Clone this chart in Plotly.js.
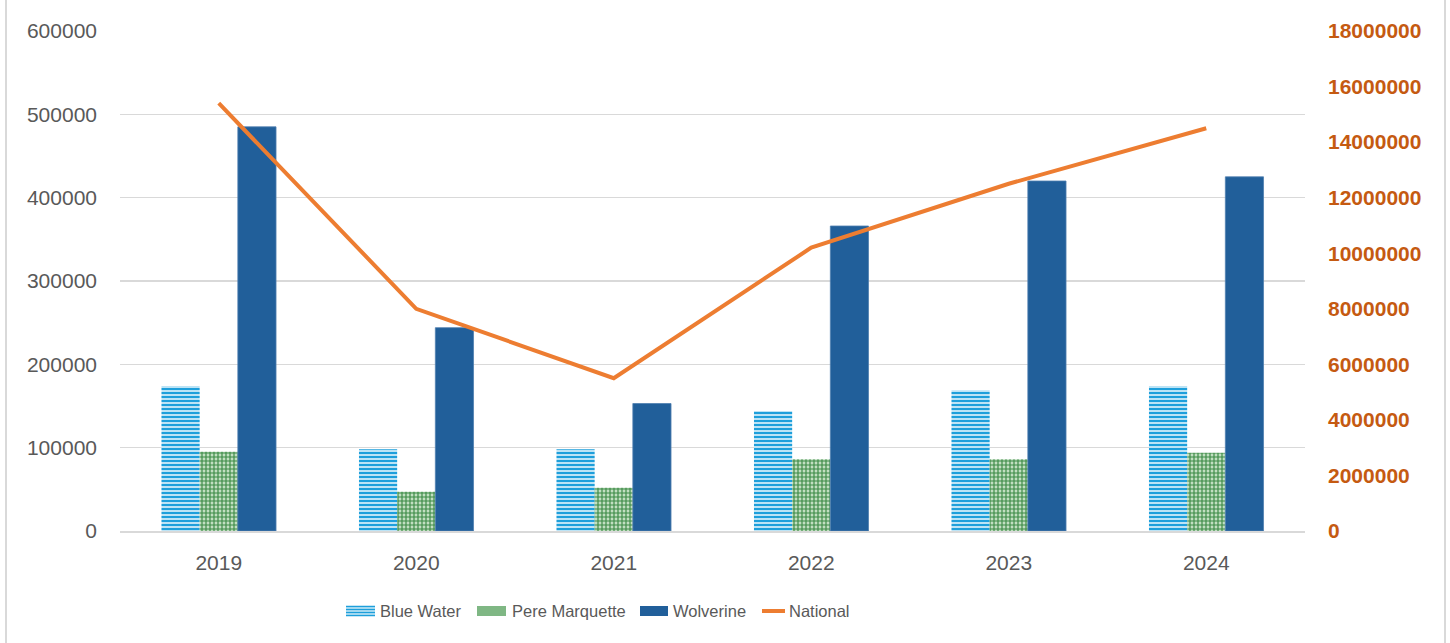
<!DOCTYPE html>
<html>
<head>
<meta charset="utf-8">
<script src="https://cdn.plot.ly/plotly-3.0.1.min.js"></script>
<style>
  html, body { margin: 0; padding: 0; background: #ffffff; }
  #chart { width: 1450px; height: 643px; }
</style>
</head>
<body>
<div id="chart"></div>
<script>
const years = ['2019', '2020', '2021', '2022', '2023', '2024'];
const blueWater = [174000, 98000, 98000, 144000, 169000, 174000];
const pereMarquette = [95000, 47000, 52000, 86000, 86000, 94000];
const wolverine = [485000, 244000, 153000, 366000, 420000, 425000];
const national = [15400000, 8000000, 5500000, 10200000, 12500000, 14500000];
const leftTicks = [0, 100000, 200000, 300000, 400000, 500000, 600000];
const rightTicks = [0, 2000000, 4000000, 6000000, 8000000, 10000000, 12000000, 14000000, 16000000, 18000000];
const seriesNames = ['Blue Water', 'Pere Marquette', 'Wolverine', 'National'];

const tickFont = { family: 'Liberation Sans, Arial, sans-serif', size: 21, color: '#595959' };
const legendFont = { family: 'Liberation Sans, Arial, sans-serif', size: 16.5, color: '#595959' };

const BW = { fg: '#1E9FDB', bg: '#CDEBF8' };
const PM = { fg: '#3B8A45', bg: '#C2DFC1' };
const WV = '#215F9A';
const NT = '#ED7D31';

const traces = [
  {
    type: 'bar', name: seriesNames[0], x: years, y: blueWater, showlegend: false,
    marker: { color: BW.bg, line: { width: 0 },
      pattern: { shape: '-', fgcolor: BW.fg, bgcolor: BW.bg, size: 4, solidity: 0.55 } },
    hoverinfo: 'skip'
  },
  {
    type: 'bar', name: seriesNames[1], x: years, y: pereMarquette, showlegend: false,
    marker: { color: PM.bg, line: { width: 0 },
      pattern: { shape: '+', fgcolor: PM.fg, bgcolor: PM.bg, size: 4, solidity: 0.5 } },
    hoverinfo: 'skip'
  },
  {
    type: 'bar', name: seriesNames[2], x: years, y: wolverine, showlegend: false,
    marker: { color: WV, line: { width: 0.8, color: '#4F7FB0' } },
    hoverinfo: 'skip'
  },
  {
    type: 'scatter', mode: 'lines', name: seriesNames[3], x: years, y: national, showlegend: false,
    yaxis: 'y2', line: { color: NT, width: 4 },
    hoverinfo: 'skip'
  }
];

const L = 120, R = 145, T = 31, B = 112;
const PW = 1450 - L - R, PH = 643 - T - B;
const px = p => (p - L) / PW;
const py = p => (643 - B - p) / PH;

// custom legend (symbols + labels), positioned in paper space
const legY = 611;
const legItems = [
  { sx: 346, ex: 375, tx: 378 },
  { sx: 477, ex: 506, tx: 510 },
  { sx: 640, ex: 668, tx: 671 },
  { sx: 762, ex: 785, tx: 787 }
];
const shapes = [
  { type: 'line', xref: 'paper', yref: 'paper', x0: px(6), x1: px(6), y0: py(0), y1: py(643), line: { color: '#D9D9D9', width: 2 } },
  { type: 'line', xref: 'paper', yref: 'paper', x0: px(1445), x1: px(1445), y0: py(0), y1: py(643), line: { color: '#D9D9D9', width: 2 } }
];
// Blue Water symbol
let it = legItems[0];
shapes.push({ type: 'rect', xref: 'paper', yref: 'paper', x0: px(it.sx), x1: px(it.ex), y0: py(legY + 5), y1: py(legY - 5), fillcolor: BW.bg, line: { width: 0 } });
[-4, -1, 2, 5].forEach(d => shapes.push({ type: 'line', xref: 'paper', yref: 'paper', x0: px(it.sx), x1: px(it.ex), y0: py(legY + d - 0.5), y1: py(legY + d - 0.5), line: { color: BW.fg, width: 1.5 } }));
// Pere Marquette symbol
it = legItems[1];
shapes.push({ type: 'rect', xref: 'paper', yref: 'paper', x0: px(it.sx), x1: px(it.ex), y0: py(legY + 5), y1: py(legY - 5), fillcolor: '#7FB784', line: { width: 0 } });
// Wolverine symbol
it = legItems[2];
shapes.push({ type: 'rect', xref: 'paper', yref: 'paper', x0: px(it.sx), x1: px(it.ex), y0: py(legY + 5), y1: py(legY - 5), fillcolor: WV, line: { width: 0 } });
// National symbol
it = legItems[3];
shapes.push({ type: 'line', xref: 'paper', yref: 'paper', x0: px(it.sx), x1: px(it.ex), y0: py(legY), y1: py(legY), line: { color: NT, width: 4 } });

const annotations = legItems.map((li, i) => ({
  xref: 'paper', yref: 'paper', x: px(li.tx), y: py(legY), xanchor: 'left', yanchor: 'middle',
  text: seriesNames[i], showarrow: false, font: legendFont
}));

const layout = {
  width: 1450, height: 643,
  margin: { l: L, r: R, t: T, b: B, pad: 0 },
  paper_bgcolor: '#ffffff', plot_bgcolor: '#ffffff',
  barmode: 'group', bargap: 0.42, bargroupgap: 0,
  showlegend: false,
  xaxis: {
    type: 'category', tickfont: tickFont, showgrid: false, zeroline: false,
    showline: true, linecolor: '#D9D9D9', linewidth: 2, ticks: '',
    ticklabelstandoff: 12
  },
  yaxis: {
    range: [0, 600000], tickvals: leftTicks, ticktext: leftTicks.map(String),
    tickfont: tickFont, showgrid: true, gridcolor: '#D9D9D9', gridwidth: 1.5,
    zeroline: false, showline: false, ticks: '', ticklabelstandoff: 22
  },
  yaxis2: {
    overlaying: 'y', side: 'right', range: [0, 18000000],
    tickvals: rightTicks, ticktext: rightTicks.map(String),
    tickfont: { family: 'Liberation Sans, Arial, sans-serif', size: 21, color: '#C55A11', weight: 'bold' },
    showgrid: false, zeroline: false, showline: false, ticks: '', ticklabelstandoff: 22
  },
  shapes: shapes,
  annotations: annotations
};

Plotly.newPlot('chart', traces, layout, { displayModeBar: false, staticPlot: true });
</script>
</body>
</html>
